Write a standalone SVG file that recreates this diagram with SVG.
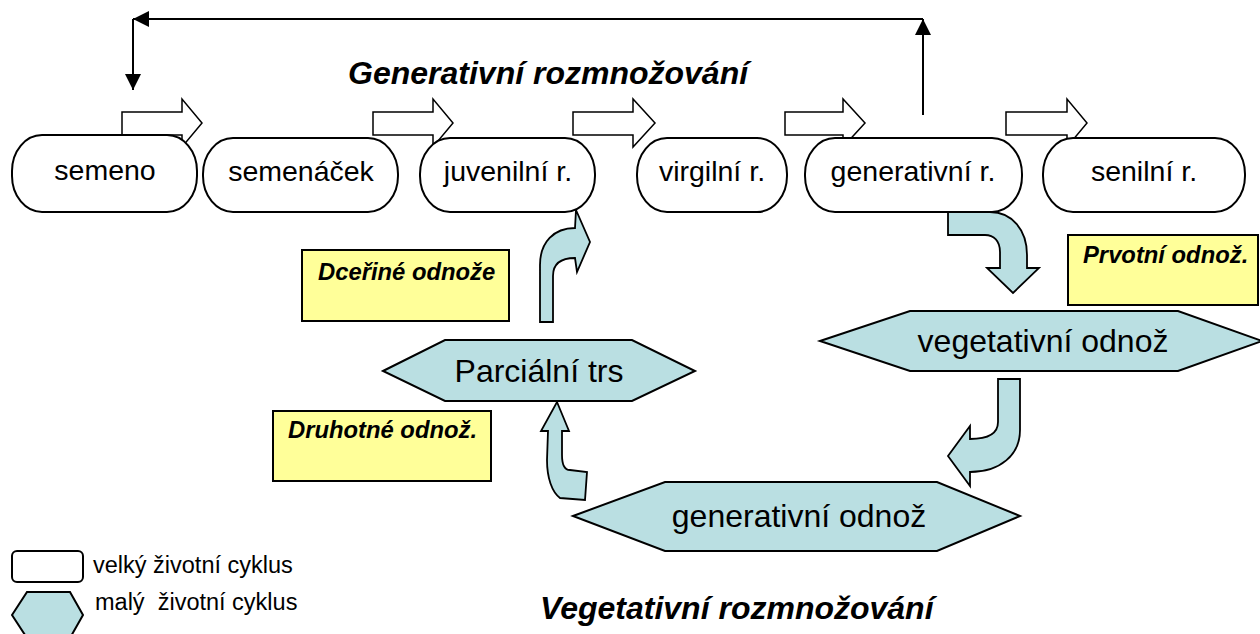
<svg xmlns="http://www.w3.org/2000/svg" width="1260" height="634" viewBox="0 0 1260 634">
<defs>
<style>
text{font-family:"Liberation Sans",Arial,sans-serif;fill:#000}
.box{fill:#fff;stroke:#000;stroke-width:2}
.blk{fill:#fff;stroke:#000;stroke-width:1.5}
.hex{fill:#BADFE2;stroke:#000;stroke-width:2}
.carr{fill:#BADFE2;stroke:#000;stroke-width:1.8;stroke-linejoin:miter}
.note{fill:#FFFF99;stroke:#000;stroke-width:2}
.bt{font-size:28.5px;text-anchor:middle}
.ht{font-size:32px;text-anchor:middle}
.nt{font-size:23.8px;font-weight:bold;font-style:italic}
.title{font-size:32px;font-weight:bold;font-style:italic}
.leg{font-size:23.5px;white-space:pre}
.ln{fill:none;stroke:#000;stroke-width:2}
</style>
<marker id="ah" viewBox="0 0 16 16" refX="16" refY="8" markerWidth="16" markerHeight="16" markerUnits="userSpaceOnUse" orient="auto">
<path d="M0,0 L16,8 L0,16 Z" fill="#000"/>
</marker>
</defs>

<g id="connectors">
<path class="ln" d="M923,115 V19" marker-end="url(#ah)"/>
<path class="ln" d="M923,19 H133" marker-end="url(#ah)"/>
<path class="ln" d="M133,19 V90" marker-end="url(#ah)"/>
<path class="blk" d="M122,112 H182 V99 L202,123 L182,147 V135 H122 Z"/>
<path class="blk" d="M373,112 H433 V99 L453,123 L433,147 V135 H373 Z"/>
<path class="blk" d="M573,112 H633 V99 L655,123 L633,147 V135 H573 Z"/>
<path class="blk" d="M785,112 H843 V99 L865,123 L843,147 V135 H785 Z"/>
<path class="blk" d="M1006,112 H1067 V99 L1087,123 L1067,147 V135 H1006 Z"/>
</g>

<g id="semeno"><rect class="box" x="12" y="135" width="185" height="77" rx="30" ry="36"/><text class="bt" x="105" y="180">semeno</text></g>
<g id="semenacek"><rect class="box" x="203" y="138" width="195" height="74" rx="30" ry="36"/><text class="bt" x="301" y="181">semenáček</text></g>
<g id="juvenilni"><rect class="box" x="420" y="138" width="175" height="74" rx="30" ry="36"/><text class="bt" x="508" y="181">juvenilní r.</text></g>
<g id="virgilni"><rect class="box" x="637" y="138" width="150" height="74" rx="30" ry="36"/><text class="bt" x="712" y="181">virgilní r.</text></g>
<g id="generativni-r"><rect class="box" x="805" y="138" width="217" height="74" rx="30" ry="36"/><text class="bt" x="913" y="181">generativní r.</text></g>
<g id="senilni"><rect class="box" x="1043" y="138" width="202" height="74" rx="30" ry="36"/><text class="bt" x="1144" y="181">senilní r.</text></g>

<g id="curved-arrows">
<path class="carr" d="M540,322 V265 C540,242 554,228 575,228 L576,210 L590,242 L577,272 L575,258 C561,258 553,264 553,276 V322 Z"/>
<path class="carr" d="M948,212 H990 C1012,212 1027,230 1027,255 V268 H1039 L1013,293 L987,268 H1000 V252 C1000,241 994,235 985,235 H948 Z"/>
<path class="carr" d="M998,379 H1020 V430 C1020,455 1000,472 970,472 V486 L948,456 L970,426 V439 C990,439 998,433 998,422 Z"/>
<path class="carr" d="M557,402 L569,431 H562 V455 C562,466 565,470 570,470 L587,472 L585,500 L560,498 C552,492 547,478 547,460 L548,431 H541 Z"/>
</g>

<g id="parcialni-trs"><polygon class="hex" points="383,371 445,340 632,340 695,371 632,401 445,401"/><text class="ht" x="539" y="382">Parciální trs</text></g>
<g id="vegetativni-odnoz"><polygon class="hex" points="820,341 910,311 1178,311 1262,341 1178,371 910,371"/><text class="ht" x="1043" y="352">vegetativní odnož</text></g>
<g id="generativni-odnoz"><polygon class="hex" points="573,516 665,482 937,482 1020,516 937,551 665,551"/><text class="ht" x="799" y="527">generativní odnož</text></g>

<g id="note-dcerine"><rect class="note" x="302" y="250" width="207" height="71"/><text class="nt" x="318" y="280">Dceřiné odnože</text></g>
<g id="note-druhotne"><rect class="note" x="273" y="411" width="218" height="70"/><text class="nt" x="288" y="438">Druhotné odnož.</text></g>
<g id="note-prvotni"><rect class="note" x="1068" y="235" width="190" height="70"/><text class="nt" x="1083" y="263">Prvotní odnož.</text></g>

<g id="titles">
<text class="title" x="348" y="84">Generativní rozmnožování</text>
<text class="title" x="540" y="619">Vegetativní rozmnožování</text>
</g>

<g id="legend">
<rect class="box" x="12" y="551" width="71" height="31" rx="5" ry="5"/>
<text class="leg" x="93" y="573">velký životní cyklus</text>
<polygon class="hex" points="12,615 27,592 70,592 83,615 70,638 27,638"/>
<text class="leg" x="95" y="610">malý  životní cyklus</text>
</g>
</svg>
